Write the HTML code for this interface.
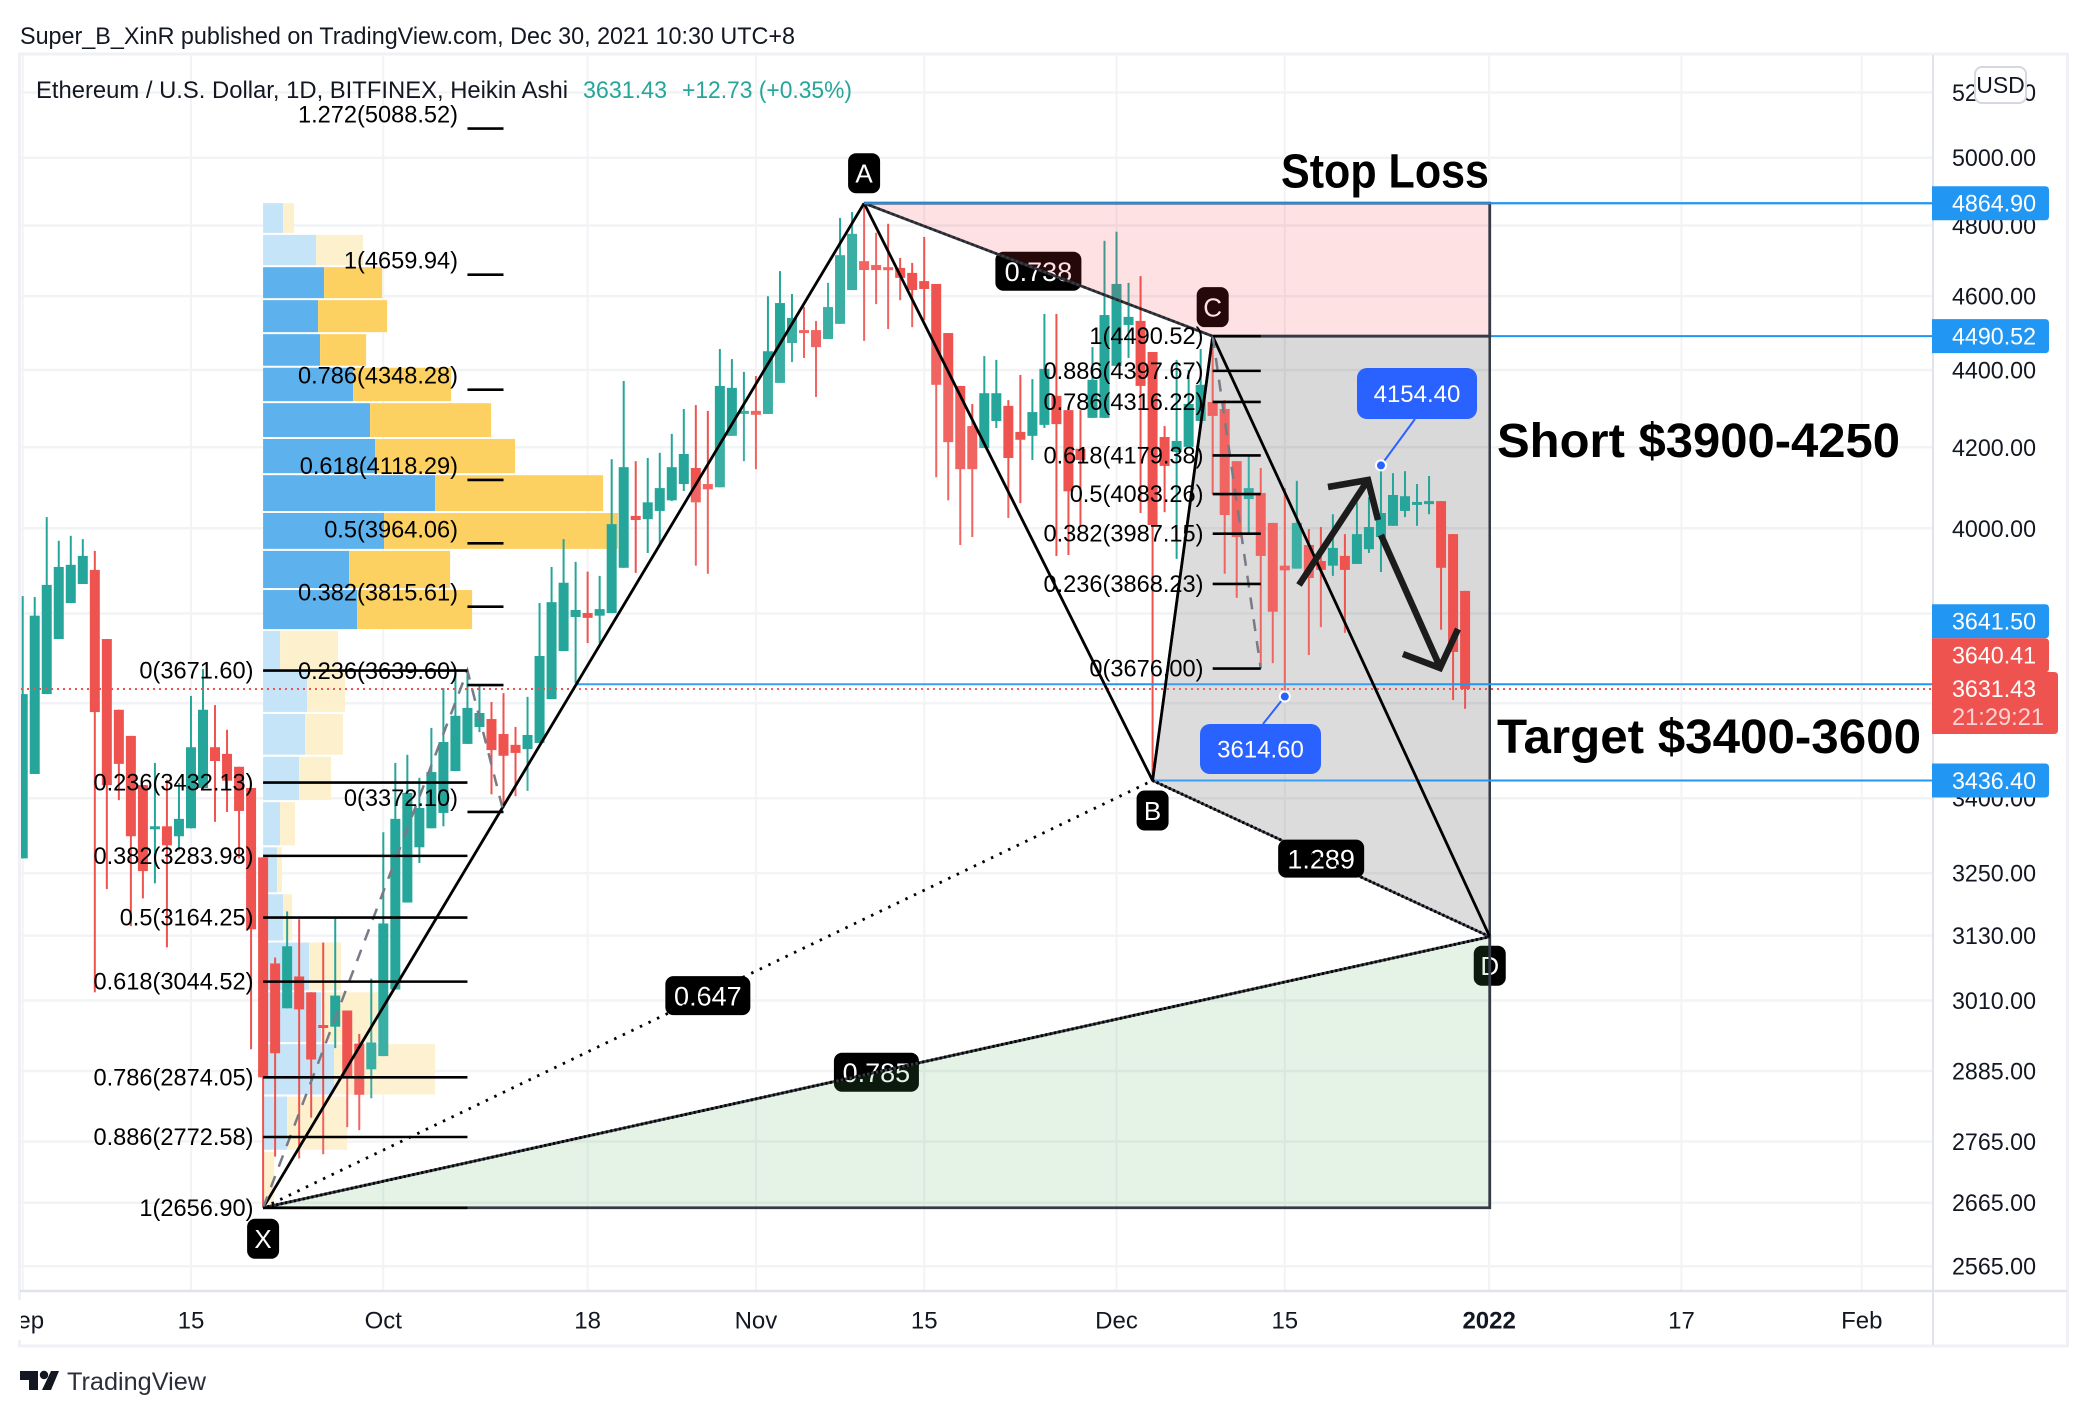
<!DOCTYPE html>
<html lang="en">
<head>
<meta charset="utf-8">
<title>Ethereum / U.S. Dollar Heikin Ashi chart</title>
<style>
html,body{margin:0;padding:0;background:#fff;}
svg{display:block;font-family:"Liberation Sans",sans-serif;}
</style>
</head>
<body>
<svg id="chart" xmlns="http://www.w3.org/2000/svg" width="2088" height="1416" viewBox="0 0 2088 1416">
  <defs><clipPath id="pane"><rect x="21" y="55" width="1912" height="1235"/></clipPath></defs>
  <rect x="0" y="0" width="2088" height="1416" fill="#ffffff"/>
  <text x="20" y="44" font-size="24" fill="#131722" textLength="775" lengthAdjust="spacingAndGlyphs">Super_B_XinR published on TradingView.com, Dec 30, 2021 10:30 UTC+8</text>
  <g id="grid"></g>
  <g clip-path="url(#pane)">
    <g id="under"></g>
    <g id="vp"></g>
    <g id="candles"></g>
    <g id="pattern"></g>
    <g id="fib"></g>
  </g>
  <g fill="none">
    <rect x="19.5" y="54" width="2048" height="1292" stroke="#f0f1f6" stroke-width="3"/>
    <line x1="1933" y1="55" x2="1933" y2="1345" stroke="#e0e3eb" stroke-width="2"/>
    <line x1="20" y1="1291" x2="2067" y2="1291" stroke="#e0e3eb" stroke-width="2.5"/>
  </g>
  <text x="36" y="98" font-size="24" fill="#131722" textLength="532" lengthAdjust="spacingAndGlyphs">Ethereum / U.S. Dollar, 1D, BITFINEX, Heikin Ashi</text>
  <text x="583" y="98" font-size="24" fill="#26a69a" textLength="84" lengthAdjust="spacingAndGlyphs">3631.43</text>
  <text x="682" y="98" font-size="24" fill="#26a69a" textLength="170" lengthAdjust="spacingAndGlyphs">+12.73 (+0.35%)</text>
  <text x="1281" y="187.5" font-size="48" font-weight="700" fill="#000" textLength="208" lengthAdjust="spacingAndGlyphs">Stop Loss</text>
  <text x="1497" y="457" font-size="48" font-weight="700" fill="#000" textLength="403" lengthAdjust="spacingAndGlyphs">Short $3900-4250</text>
  <text x="1497" y="753" font-size="48" font-weight="700" fill="#000" textLength="424" lengthAdjust="spacingAndGlyphs">Target $3400-3600</text>
  <g id="axes"></g>
  <g id="tags"></g>
  <g>
    <rect x="1975" y="67" width="51" height="36" rx="7" fill="#fff" stroke="#d6d8e0" stroke-width="2"/>
    <text x="2000.5" y="93" font-size="23" text-anchor="middle" fill="#131722">USD</text>
  </g>
  <g>
    <path d="M20 1371H38V1390H29V1380H20Z M51 1371H59L51 1390H42Z" fill="#131722"/>
    <circle cx="44" cy="1375" r="4.2" fill="#131722"/>
    <text x="67" y="1390" font-size="25" fill="#2a2e39" textLength="139" lengthAdjust="spacingAndGlyphs">TradingView</text>
  </g>
</svg>
<script>
// ---- Chart data (prices in USD, one entry per day from 1 Sep 2021) ----
const opens = [3279,3450,3620,3742,3824,3868,3901,3742,3586,3530,
3427,3339,3343,3323,3339,3421,3506,3492,3465,3421,
3281,3078,2996,3054,3025,2966,2963,2992,2933,2888,
2911,3030,3193,3301,3339,3370,3456,3513,3549,3566,
3534,3511,3502,3515,3609,3715,3792,3801,3795,3801,
3906,4030,4022,4042,4068,4108,4148,4108,4100,4229,
4288,4293,4285,4366,4472,4507,4507,4483,4524,4617,
4698,4687,4681,4679,4665,4642,4634,4499,4358,4254,
4198,4267,4306,4239,4229,4257,4332,4295,4196,4275,
4275,4411,4521,4532,4448,4226,4188,4201,4267,4316,
4298,4165,4071,4086,4013,3911,3904,3960,3922,3911,
3934,3915,3950,3979,4006,4042,4061,4061,4066,3986,3852];
const highs = [3840,3838,4027,3970,3982,3974,3946,3742,3586,3530,
3427,3473,3438,3431,3616,3675,3596,3543,3465,3421,
3281,3089,3176,3161,3025,3117,3165,2992,2950,3050,
3331,3473,3490,3442,3547,3633,3666,3673,3638,3603,
3622,3549,3614,3824,3908,3974,3920,3897,3887,4170,
4371,4165,4173,4186,4234,4298,4308,4293,4456,4429,
4395,4384,4600,4670,4606,4570,4532,4637,4822,4839,
4865,4779,4805,4707,4693,4767,4634,4499,4358,4311,
4437,4427,4321,4387,4376,4551,4551,4295,4295,4461,
4756,4782,4637,4656,4448,4254,4427,4400,4456,4458,
4321,4165,4178,4148,4013,4098,4116,3998,4003,4034,
3986,4063,4076,4155,4135,4140,4108,4128,4066,3986,3852];
const lows = [3279,3450,3620,3742,3824,3868,3025,3219,3396,3148,
3201,3230,3108,3295,3339,3417,3352,3372,3279,2923,
2658,2740,2996,2737,2805,2744,2925,2789,2784,2838,
2911,3030,3193,3270,3339,3343,3456,3513,3538,3408,
3380,3404,3415,3515,3609,3715,3644,3733,3733,3801,
3906,3894,3941,3962,4066,4091,3911,3892,4100,4229,
4165,4145,4285,4366,4421,4432,4329,4483,4524,4617,
4478,4578,4510,4589,4515,4534,4125,4068,3960,3979,
4198,4249,4025,4061,4168,4249,3934,3936,4003,4275,
4275,4411,4432,4037,3436,4039,3927,4201,4267,4083,
3892,3836,3989,3677,3688,3616,3904,3706,3769,3887,
3756,3915,3941,3896,4006,4027,4006,4034,3763,3607,3588];
const closes = [3620,3795,3866,3908,3913,3934,3581,3427,3471,3323,
3254,3343,3305,3358,3506,3586,3477,3436,3374,3142,
2874,2916,3110,2994,2905,2963,3019,2874,2844,2935,
3153,3358,3411,3380,3454,3517,3573,3590,3579,3500,
3488,3494,3532,3704,3826,3871,3808,3790,3810,4010,
4150,4020,4063,4098,4150,4183,4063,4095,4358,4353,
4293,4283,4450,4581,4540,4502,4461,4570,4715,4776,
4673,4673,4673,4651,4617,4620,4361,4213,4145,4145,
4339,4339,4173,4219,4290,4403,4259,4090,4168,4374,
4548,4634,4543,4358,4008,4153,4216,4311,4361,4280,
4032,3979,4098,3934,3804,3900,4013,3882,3901,3953,
3901,3986,4003,4037,4081,4078,4064,4066,3906,3713,3631];

const priceTicks = [5200,5000,4800,4600,4400,4200,4000,3800,3600,3400,3250,3130,3010,2885,2765,2665,2565];
const priceTickLabels = ["5200.00","5000.00","4800.00","4600.00","4400.00","4200.00","4000.00",null,"3600.00","3400.00","3250.00","3130.00","3010.00","2885.00","2765.00","2665.00","2565.00"];
const timeTickDays = [0,14,30,47,61,75,91,105,122,138,153];
const timeTickLabels = ["Sep","15","Oct","18","Nov","15","Dec","15","2022","17","Feb"];

// Visible-range volume profile: price edges of each row and up/down volume
const vpEdges = [4865,4773,4681,4589,4496,4406,4313,4221,4130,4037,3946,3854,3760,3669,3577,3486,3392,3301,3209,3117,3025,2932,2841,2748,2657];
const vpUp = [20,53,61,55,57,90,107,112,172,121,86,94,17,44,42,36,17,14,20,46,58,71,24,0];
const vpDown = [11,47,58,69,46,98,121,140,168,234,101,115,58,38,38,32,15,5,9,32,57,101,60,11];
const vpValueAreaFirst = 2;
const vpValueAreaLast = 11;

// XABCD harmonic pattern pivots
const pivotNames = ["X","A","B","C","D"];
const pivotDays = [20,70,94,99,122.05];
const pivotPrices = [2656.90,4864.90,3436.40,4490.52,3128];

// Fibonacci tools
const fibARatios = ["1.272","1","0.786","0.618","0.5","0.382","0.236","0"];
const fibAPrices = [5088.52,4659.94,4348.28,4118.29,3964.06,3815.61,3639.60,3372.10];
const fibBRatios = ["0","0.236","0.382","0.5","0.618","0.786","0.886","1"];
const fibBPrices = [3671.60,3432.13,3283.98,3164.25,3044.52,2874.05,2772.58,2656.90];
const fibCRatios = ["1","0.886","0.786","0.618","0.5","0.382","0.236","0"];
const fibCPrices = [4490.52,4397.67,4316.22,4179.38,4083.26,3987.15,3868.23,3676.00];

// ---- Axis functions ----
function xScale(day){ return 22.7 + 12.02 * day; }
function yScale(price){ return 157.7 + 1660.8 * Math.log(5000 / price); }

const NS = 'http://www.w3.org/2000/svg';
function make(parent, tag, attrs, text){
  const n = document.createElementNS(NS, tag);
  for (const k in attrs) n.setAttribute(k, attrs[k]);
  if (text !== undefined) n.textContent = text;
  parent.appendChild(n);
  return n;
}
const gridG = document.getElementById('grid');
const underG = document.getElementById('under');
const vpG = document.getElementById('vp');
const candleG = document.getElementById('candles');
const patG = document.getElementById('pattern');
const fibG = document.getElementById('fib');
const axesG = document.getElementById('axes');
const tagsG = document.getElementById('tags');

const PANE_LEFT = 21, PANE_RIGHT = 1933, PANE_TOP = 55, PANE_BOTTOM = 1290;
const TEAL = '#26a69a', RED = '#ef5350', BLUE = '#2196f3', DARK = '#363a45';

// grid + axis tick labels
priceTicks.forEach(function(p, i){
  const y = yScale(p);
  const gl = make(gridG, 'line', {x1:PANE_LEFT, y1:y, x2:PANE_RIGHT, y2:y, stroke:'#f2f3f5', 'stroke-width':2.5});
  
  
  if (priceTickLabels[i] === null) return;
  const t = make(axesG, 'text', {x:2036, y:y+8.5, 'font-size':24, 'text-anchor':'end', fill:'#131722', textLength:84, lengthAdjust:'spacingAndGlyphs'}, priceTickLabels[i]);
  
  
});
timeTickDays.forEach(function(d, i){
  const x = xScale(d);
  const gl = make(gridG, 'line', {x1:x, y1:PANE_TOP, x2:x, y2:PANE_BOTTOM, stroke:'#f3f3f6', 'stroke-width':2});
  
  
  const attrs = {x:x, y:1328.5, 'font-size':24, 'text-anchor':'middle', fill:'#131722'};
  if (timeTickLabels[i] === '2022') attrs['font-weight'] = 700;
  const t = make(axesG, 'text', attrs, timeTickLabels[i]);
  
  
});
// clip of the leading "Sep" tick at the pane's left edge
const sepCover = make(axesG, 'rect', {x:0, y:1300, width:21, height:40, fill:'#fff'});



const px = pivotDays.map(xScale);
const py = pivotPrices.map(yScale);
const xLeft = px[0], xA = px[1], xB = px[2], xC = px[3], xD = px[4];
const yX = py[0], yA = py[1], yB = py[2], yC = py[3], yD = py[4];
function pts(a){ return a.map(function(q){ return q[0] + ',' + q[1]; }).join(' '); }

// grey short-zone fill (beneath candles)
const grey = make(underG, 'polygon', {points:pts([[xB,yB],[xC,yC],[xD,yC],[xD,yD]]), fill:'rgba(0,0,0,0.15)', stroke:DARK, 'stroke-width':2.5});



// volume profile
vpUp.forEach(function(u, i){
  const top = yScale(vpEdges[i]);
  const h = yScale(vpEdges[i+1]) - top - 2;
  const inside = i >= vpValueAreaFirst && i <= vpValueAreaLast;
  const x0 = xScale(pivotDays[0]);
  const ru = make(vpG, 'rect', {x:x0, y:top, width:u, height:h, fill: inside ? '#5db1ed' : '#c6e4f8'});
  
  
  const rd = make(vpG, 'rect', {x:x0+u, y:top, width:vpDown[i], height:h, fill: inside ? '#fdd161' : '#fdf0cd'});
  
  
});

// candles
closes.forEach(function(c, i){
  const o = opens[i];
  const color = c >= o ? TEAL : RED;
  const x = xScale(i);
  const w = make(candleG, 'rect', {x:x-1, y:yScale(highs[i]), width:2, height:Math.max(yScale(lows[i]) - yScale(highs[i]), 1), fill:color});
  
  
  const top = yScale(Math.max(o, c));
  const bh = Math.max(yScale(Math.min(o, c)) - top, 3);
  const b = make(candleG, 'rect', {x:x-5, y:top, width:10, height:bh, fill:color});
  
  
});

// last price line
const lastY = yScale(closes[closes.length-1]);
const lp = make(patG, 'line', {x1:PANE_LEFT, y1:lastY, x2:PANE_RIGHT, y2:lastY, stroke:RED, 'stroke-width':2, 'stroke-dasharray':'2 4'});



// horizontal rays
function ray(day, price){
  const y = yScale(price);
  const r = make(patG, 'line', {x1:xScale(day), y1:y, x2:PANE_RIGHT, y2:y, stroke:BLUE, 'stroke-width':2});
  
  
}
ray(70, 4864.90);
ray(99, 4490.52);
ray(46, 3641.50);
ray(94, 3436.40);

// white veil of the pattern triangles
const veil1 = make(patG, 'polygon', {points:pts([[xLeft,yX],[xA,yA],[xB,yB]]), fill:'rgba(255,255,255,0.1)'});


const veil2 = make(patG, 'polygon', {points:pts([[xB,yB],[xC,yC],[xD,yD]]), fill:'rgba(255,255,255,0.1)'});



function pill(cx, cy, w, h, text, fs){
  const r = make(patG, 'rect', {x:cx-w/2, y:cy-h/2, width:w, height:h, rx:8, fill:'#000'});
  
  
  const t = make(patG, 'text', {x:cx, y:cy+fs*0.36, 'font-size':fs, 'text-anchor':'middle', fill:'#fff'}, text);
  
  
}
pill(xA, yA-30, 32, 40, pivotNames[1], 26);
pill(xC, yC-29, 32, 40, pivotNames[3], 26);
pill(xLeft, yX+31, 32, 40, pivotNames[0], 26);
pill(xB, yB+30, 32, 40, pivotNames[2], 26);
pill(xD, yD+29, 32, 40, pivotNames[4], 26);
pill((xA+xC)/2, (yA+yC)/2+1.5, 86, 39, '0.738', 27);
pill((xLeft+xB)/2, (yX+yB)/2+1.5, 85, 39, '0.647', 27);
pill((xLeft+xD)/2, (yX+yD)/2, 85, 39, '0.785', 27);
pill((xB+xD)/2, (yB+yD)/2, 86, 38, '1.289', 27);

// pattern legs
function leg(a, b, w, dash, color, name){
  const l = make(patG, 'line', {x1:px[a], y1:py[a], x2:px[b], y2:py[b], stroke:color, 'stroke-width':w, 'stroke-dasharray':dash});
  
  
}
leg(0, 1, 2.8, 'none', '#000', 'pattern-leg-xa');
leg(1, 2, 2.8, 'none', '#000', 'pattern-leg-ab');
leg(2, 3, 2.8, 'none', '#000', 'pattern-leg-bc');
leg(3, 4, 2.8, 'none', '#000', 'pattern-leg-cd');
leg(0, 2, 2.8, '2.5 7', '#000', 'pattern-diagonal-xb');

// pink and green zones, drawn over labels
const pink = make(patG, 'polygon', {points:pts([[xA,yA],[xD,yA],[xD,yC],[xC,yC]]), fill:'rgba(242,54,69,0.15)', stroke:DARK, 'stroke-width':2.8});


const green = make(patG, 'polygon', {points:pts([[xLeft,yX],[xD,yD],[xD,yX]]), fill:'rgba(76,175,80,0.15)', stroke:DARK, 'stroke-width':2.8});


leg(0, 4, 3, '2 2.5', '#000', 'pattern-diagonal-xd');
leg(2, 4, 3, '2 2.5', '#000', 'pattern-diagonal-bd');
leg(1, 3, 2.5, '2 3', '#222', 'pattern-diagonal-ac');
const topRay = make(patG, 'line', {x1:xA, y1:yA, x2:PANE_RIGHT, y2:yA, stroke:BLUE, 'stroke-width':2});



// dashed fib connectors
function dashed(list){
  const p = list.map(function(q){ return [xScale(q[0]), yScale(q[1])]; });
  const d = make(fibG, 'polyline', {points:pts(p), fill:'none', stroke:'#787b86', 'stroke-width':2.5, 'stroke-dasharray':'12 10'});
  
  
}
dashed([[20,2656.90],[37,3671.60],[40,3372.10]]);
dashed([[99,4490.52],[103,3676.00]]);

// fib levels
function fibSet(ratios, prices, d0, d1, textX, textDy, setName){
  prices.forEach(function(p, i){
    const y = yScale(p);
    const l = make(fibG, 'line', {x1:xScale(d0), y1:y, x2:xScale(d1), y2:y, stroke:'#000', 'stroke-width':2.6});
    
    
    const t = make(fibG, 'text', {x:textX, y:y+textDy, 'font-size':23.6, 'text-anchor':'end', fill:'#000'}, ratios[i] + '(' + p.toFixed(2) + ')');
    
    
  });
}
fibSet(fibARatios, fibAPrices, 37, 40, 458, -6, 'fib-extension');
fibSet(fibBRatios, fibBPrices, 20, 37, 253.5, 8, 'fib-retracement-xa');
fibSet(fibCRatios, fibCPrices, 99, 103, 1203.5, 8, 'fib-retracement-cd');

// call-outs for swing high/low
function callout(day, price, bx, by, bw, bh, lx, ly, name){
  const x = xScale(day), y = yScale(price);
  const l = make(fibG, 'line', {x1:x, y1:y, x2:lx, y2:ly, stroke:'#2962ff', 'stroke-width':2});
  
  
  const c = make(fibG, 'circle', {cx:x, cy:y, r:5, fill:'#2962ff', stroke:'#fff', 'stroke-width':2});
  
  
  const r = make(fibG, 'rect', {x:bx, y:by, width:bw, height:bh, rx:10, fill:'#2962ff'});
  
  
  const t = make(fibG, 'text', {x:bx+bw/2, y:by+bh/2+8.5, 'font-size':24, 'text-anchor':'middle', fill:'#fff'}, price.toFixed(2));
  
  
}
callout(113, 4154.40, 1357, 368, 120, 51, 1415, 419, 'swing-high-callout');
callout(105, 3614.60, 1200, 724, 121, 50, 1263, 724, 'swing-low-callout');

// hand-drawn arrows
const arrow1 = make(fibG, 'path', {d:'M1299 585L1368 480M1328 487L1368 480L1378 520', fill:'none', stroke:'#1c1c1c', 'stroke-width':6.5});


const arrow2 = make(fibG, 'path', {d:'M1381 535L1440 667M1403 654L1440 668L1458 629', fill:'none', stroke:'#1c1c1c', 'stroke-width':6.5});



// price tags on the axis
function tag(text, cy, h, w, color, name){
  const r = make(tagsG, 'path', {d:'M1932 '+(cy-h/2)+'H'+(1932+w-4)+'q4 0 4 4V'+(cy+h/2-4)+'q0 4 -4 4H1932Z', fill:color});
  
  
  const t = make(tagsG, 'text', {x:2036, y:cy+8.5, 'font-size':24, 'text-anchor':'end', fill:'#fff', textLength:84, lengthAdjust:'spacingAndGlyphs'}, text);
  
  
}
tag('4864.90', yScale(4864.90), 34, 117, BLUE, 'tag-stop-loss');
tag('4490.52', yScale(4490.52), 34, 117, BLUE, 'tag-point-c');
tag('3641.50', yScale(3641.50)-63, 34, 117, BLUE, 'tag-level');
tag('3640.41', yScale(3641.50)-29, 34, 117, RED, 'tag-open');
const lastBox = make(tagsG, 'path', {d:'M1932 672H2054q4 0 4 4V730q0 4 -4 4H1932Z', fill:RED});


const lastLabel = make(tagsG, 'text', {x:2036, y:697, 'font-size':24, 'text-anchor':'end', fill:'#fff', textLength:84, lengthAdjust:'spacingAndGlyphs'}, '3631.43');


const countdown = make(tagsG, 'text', {x:1952, y:725, 'font-size':24, fill:'#fbd4d3', textLength:92, lengthAdjust:'spacingAndGlyphs'}, '21:29:21');


tag('3436.40', yScale(3436.40), 34, 117, BLUE, 'tag-point-b');
</script>
</body>
</html>
